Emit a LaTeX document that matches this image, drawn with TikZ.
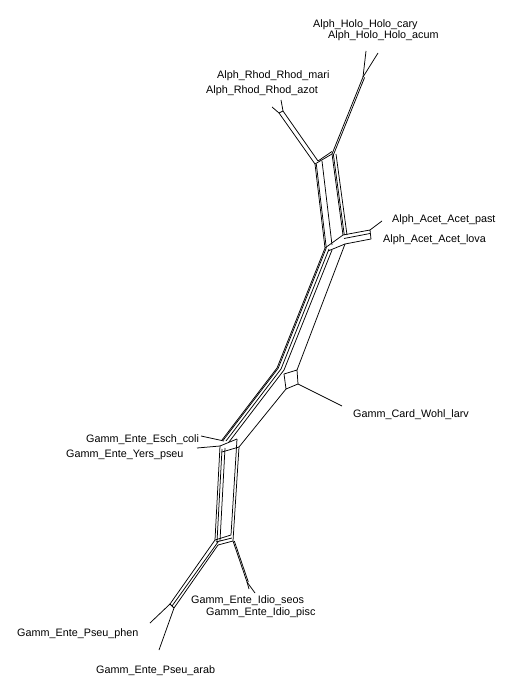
\documentclass[tikz,border=0pt]{standalone}
\usepackage{fontspec}
\setmainfont{Liberation Sans}
\newcommand{\strand}[4]{\draw[split] ([shift={(#2)}]#1) -- ([shift={(#4)}]#3);}
\begin{document}
\begin{tikzpicture}[x=1pt,y=-1pt,
  split/.style={line width=0.75pt,line join=round},
  lbl/.style={font=\fontsize{10.8}{13}\selectfont,anchor=base west,inner sep=0pt}]
\useasboundingbox (0,0) rectangle (530,700);

% ---- leaf tips
\coordinate (cary) at (366,51);
\coordinate (acum) at (378,53);
\coordinate (mari) at (281,100);
\coordinate (azot) at (272,107);
\coordinate (past) at (382,221);
\coordinate (larv) at (342,406);
\coordinate (coli) at (201,436);
\coordinate (yers) at (197,448);
\coordinate (seos) at (249,589);
\coordinate (pisc) at (255,593);
\coordinate (phen) at (150,623);
\coordinate (arab) at (159,650);

% ---- internal junctions
\coordinate (hj) at (363,77);
\coordinate (rj1) at (279,113);
\coordinate (rj2) at (283,111);
\coordinate (t1) at (315,164);
\coordinate (t1b) at (318,161);
\coordinate (t2) at (332,154);
\coordinate (a1) at (325,248);
\coordinate (ac1) at (343,235);
\coordinate (ac2) at (370,230);
\coordinate (ac3) at (371,239);
\coordinate (ac4) at (345,244);
\coordinate (b1) at (277,368);
\coordinate (c1) at (284,374);
\coordinate (c2) at (297,370);
\coordinate (c3) at (298,384);
\coordinate (c4) at (286,389);
\coordinate (e0) at (222,440);
\coordinate (eb1) at (220,446);
\coordinate (eb2) at (237,439);
\coordinate (eb3) at (239,447);
\coordinate (eb4) at (222,452);
\coordinate (i1) at (215,540);
\coordinate (i2) at (231,535);
\coordinate (i3) at (233,541);
\coordinate (i4) at (218,545);
\coordinate (ij) at (247,582);
\coordinate (p1) at (170,604);
\coordinate (p2) at (174,608);

% ---- Holo clade
\draw[split] (cary) -- (hj);
\draw[split] (acum) -- (hj);
\strand{hj}{0,0}{t2}{0,0}
\strand{hj}{1.6,0.4}{t2}{1.6,0.4}

% ---- Rhod clade
\draw[split] (azot) -- (rj1) -- (t1);
\draw[split] (mari) -- (rj2) -- (t1b);
\draw[split] (rj1) -- (rj2);
\draw[split] (t1) -- (t2);
\strand{t1b}{0,0}{t2}{0,-2.5}

% ---- upper trunk
\foreach \s in {{0,0},{1.3,0},{7,-3}} {\strand{t1}{\s}{a1}{\s}}
\foreach \s in {{0,0},{1.3,0},{4,0}} {\strand{t2}{\s}{ac1}{\s}}
\draw[split] (a1) -- (ac1);
\strand{a1}{3,3}{ac4}{0,0}

% ---- Acet box
\draw[split] (ac1) -- (ac2) -- (ac3) -- (ac4);
\strand{ac1}{1,3.5}{ac2}{0,3.5}
\draw[split] (ac2) -- (past);

% ---- middle trunk
\foreach \s in {{0,0},{1.2,0.2},{4,1},{7,2}} {
  \draw[split] ([shift={(\s)}]a1) -- ([shift={(\s)}]b1) -- ([shift={(\s)}]e0);
}
\draw[split] (ac4) -- (c2);
\draw[split] (c1) -- (c2) -- (c3) -- (c4) -- cycle;
\draw[split] (c3) -- (larv);
\draw[split] (c4) -- (eb3);

% ---- Esch box
\draw[split] (eb1) -- (eb2);
\draw[split] (eb4) -- (eb3);
\draw[split] (coli) -- (224,441);
\draw[split] (yers) -- (eb1);

% ---- lower trunk
\draw[split] (eb1) -- (i1);
\strand{eb1}{2,3}{i1}{2,2}
\strand{eb1}{5,2}{i1}{5,1}
\draw[split] (eb2) -- (i2);
\draw[split] (eb3) -- (i3);

% ---- Idio box
\draw[split] (i1) -- (i2);
\draw[split] (i4) -- (i3);
\strand{i1}{1,2}{i2}{1,3}
\draw[split] (i3) -- (ij);
\strand{i3}{1.3,0}{ij}{1.3,0}
\draw[split] (ij) -- (seos);
\draw[split] (ij) -- (pisc);

% ---- Pseu
\draw[split] (i1) -- (p1);
\strand{i1}{3,2}{p1}{2,2}
\draw[split] (i4) -- (p2);
\draw[split] (p1) -- (p2);
\draw[split] (p1) -- (phen);
\draw[split] (p2) -- (arab);

% ---- taxon labels
\node[lbl] (Lcary) at (313,28) {Alph\_Holo\_Holo\_cary};
\node[lbl] (Lacum) at (328,39) {Alph\_Holo\_Holo\_acum};
\node[lbl] (Lmari) at (217,79) {Alph\_Rhod\_Rhod\_mari};
\node[lbl] (Lazot) at (206,94) {Alph\_Rhod\_Rhod\_azot};
\node[lbl] (Lpast) at (392,223) {Alph\_Acet\_Acet\_past};
\node[lbl] (Llova) at (383,243) {Alph\_Acet\_Acet\_lova};
\node[lbl] (Llarv) at (353,417) {Gamm\_Card\_Wohl\_larv};
\node[lbl] (Lcoli) at (86,442) {Gamm\_Ente\_Esch\_coli};
\node[lbl] (Lyers) at (66,457) {Gamm\_Ente\_Yers\_pseu};
\node[lbl] (Lseos) at (191,603) {Gamm\_Ente\_Idio\_seos};
\node[lbl] (Lpisc) at (206,615) {Gamm\_Ente\_Idio\_pisc};
\node[lbl] (Lphen) at (17,636) {Gamm\_Ente\_Pseu\_phen};
\node[lbl] (Larab) at (96,673) {Gamm\_Ente\_Pseu\_arab};
\end{tikzpicture}
\end{document}
